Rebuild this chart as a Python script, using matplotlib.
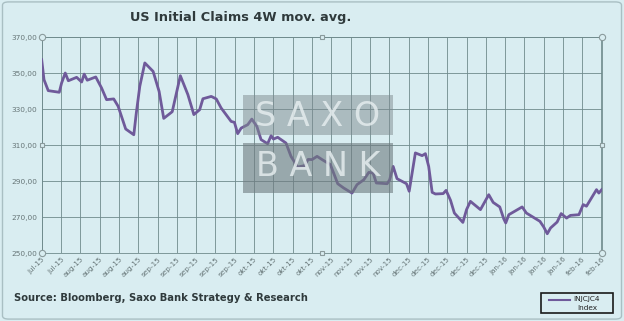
import matplotlib
matplotlib.use("Agg")
import matplotlib.pyplot as plt
from matplotlib.patches import Rectangle, FancyBboxPatch

# tick labels (one per grid line)
tick_labels = ["jul-15", "jul-15", "aug-15", "aug-15", "aug-15", "aug-15",
               "sep-15", "sep-15", "sep-15", "sep-15", "sep-15",
               "okt-15", "okt-15", "okt-15", "okt-15",
               "nov-15", "nov-15", "nov-15", "nov-15",
               "dec-15", "dec-15", "dec-15", "dec-15", "dec-15",
               "jan-16", "jan-16", "jan-16", "jan-16",
               "feb-16", "feb-16"]

# position along the axis (in tick steps) and claims 4W avg (thousands)
pos = [0.0, 0.12, 0.34, 0.91, 1.03, 1.22, 1.38, 1.81, 2.07, 2.2, 2.36, 2.8,
       3.1, 3.36, 3.73, 3.96, 4.35, 4.77, 4.9, 5.08, 5.34, 5.77, 6.08, 6.32,
       6.76, 7.18, 7.57, 7.88, 8.18, 8.35, 8.78, 9.04, 9.29, 9.81, 9.98,
       10.15, 10.33, 10.67, 10.88, 11.14, 11.36, 11.7, 11.88, 12.0, 12.22,
       12.65, 12.91, 13.25, 13.6, 13.8, 14.0, 14.26, 14.52, 14.95, 15.33,
       15.64, 16.07, 16.33, 16.68, 16.94, 17.16, 17.33, 17.89, 18.02, 18.2,
       18.4, 18.89, 19.03, 19.35, 19.7, 19.87, 20.04, 20.22, 20.39, 20.79,
       20.94, 21.17, 21.37, 21.81, 22.0, 22.2, 22.72, 23.15, 23.38, 23.72,
       23.93, 24.03, 24.19, 24.88, 25.1, 25.8, 26.0, 26.18, 26.35, 26.69,
       26.9, 27.18, 27.38, 27.82, 28.04, 28.21, 28.73, 28.85, 29.0]
claims = [357.4, 346.3, 340.2, 339.3, 344.4, 350.0, 345.7, 347.6, 345.0,
          349.4, 346.0, 347.8, 341.7, 335.2, 335.6, 331.5, 318.9, 315.7,
          327.8, 342.6, 355.6, 350.9, 339.8, 324.8, 328.5, 348.5, 338.0,
          326.9, 329.6, 335.7, 337.0, 335.6, 330.6, 323.1, 322.6, 316.3,
          319.4, 321.3, 324.4, 320.4, 313.0, 310.7, 315.2, 313.3, 314.3,
          311.1, 303.7, 297.8, 298.5, 302.0, 301.9, 303.7, 301.9, 299.1,
          288.5, 286.1, 283.3, 288.0, 290.7, 294.8, 294.4, 288.9, 288.5,
          290.7, 298.1, 291.3, 288.5, 284.3, 305.6, 304.1, 305.2, 298.1,
          283.7, 282.8, 283.0, 284.8, 279.3, 272.2, 267.0, 274.1, 278.7,
          274.1, 282.4, 278.1, 275.6, 268.9, 266.7, 271.3, 275.6, 272.2,
          267.6, 264.4, 260.7, 263.9, 267.2, 271.9, 269.4, 270.9, 271.3,
          276.9, 276.0, 285.2, 283.3, 285.2]

bg = "#d9edf1"
grid_c = "#6f8a8c"
line_c = "#6f5a9a"

fig = plt.figure(figsize=(6.24, 3.21), dpi=100, facecolor=bg)
fig.patches.append(FancyBboxPatch((0.004, 0.006), 0.992, 0.988,
                                  boxstyle="round,pad=0,rounding_size=0.01",
                                  transform=fig.transFigure, facecolor="none",
                                  edgecolor="#a9bfc3", lw=1.0))
ax = fig.add_axes([0.0668, 0.2118, 0.8975, 0.6729])
ax.set_facecolor(bg)

ax.plot(pos, claims, color=line_c, lw=2.0, zorder=3, solid_joinstyle="round")

ax.set_xlim(0, len(tick_labels) - 1)
ax.set_ylim(250, 370)
ax.set_xticks(range(len(tick_labels)))
ax.set_xticklabels(tick_labels, rotation=45, ha="right", rotation_mode="anchor",
                   fontsize=5.2, color="#667577")
ax.set_yticks(range(250, 371, 20))
ax.set_yticklabels([f"{v},00" for v in range(250, 371, 20)], fontsize=5.3,
                   color="#667577")
ax.tick_params(length=0, pad=3)
ax.tick_params(axis="x", pad=2)
ax.grid(True, color=grid_c, lw=0.6)
ax.set_axisbelow(True)
for s in ax.spines.values():
    s.set_color(grid_c)
    s.set_linewidth(0.6)
ax.spines["right"].set_linewidth(1.2)

# selection handles
for xa, ya, m in [(0, 0, "o"), (0, 1, "o"), (1, 1, "o"), (1, 0, "o"),
                  (0, 0.5, "s"), (0.5, 1, "s"), (1, 0.5, "s"), (0.5, 0, "s")]:
    ax.plot(xa, ya, marker=m, ms=4.5 if m == "o" else 3.5, mfc=bg, mec="#8a9a9c",
            mew=0.8, transform=ax.transAxes, clip_on=False, zorder=6)

# watermark
wm = fig.add_axes([0, 0, 1, 1], facecolor="none")
wm.set_xlim(0, 624)
wm.set_ylim(321, 0)
wm.axis("off")
wm.add_patch(Rectangle((243, 95), 150, 40, facecolor="#7e8a8f", alpha=0.5,
                       edgecolor="none", zorder=1))
wm.add_patch(Rectangle((243, 143), 150, 50, facecolor="#6e7a7f", alpha=0.6,
                       edgecolor="none", zorder=1))
wm.text(318, 116, "S A X O", fontsize=24, color="#e4ecee", ha="center",
        va="center", alpha=0.85)
wm.text(318, 166, "B A N K", fontsize=24, color="#e4ecee", ha="center",
        va="center", alpha=0.85)

fig.text(0.385, 0.945, "US Initial Claims 4W mov. avg.", ha="center", va="center",
         fontsize=9.3, fontweight="bold", color="#2f3a3c")
fig.text(0.022, 0.072, "Source: Bloomberg, Saxo Bank Strategy & Research",
         ha="left", va="center", fontsize=7.2, fontweight="bold", color="#2f3a3c")

# legend box
wm.add_patch(Rectangle((541, 293), 72, 20, facecolor=bg, edgecolor="#1a1a1a",
                       lw=1.2, zorder=2))
wm.plot([549, 570], [299.5, 299.5], color=line_c, lw=1.5, zorder=3)
wm.text(587, 299.5, "INJCJC4", fontsize=5.3, ha="center", va="center",
        color="#222222", zorder=3)
wm.text(587, 307.5, "Index", fontsize=5.3, ha="center", va="center",
        color="#222222", zorder=3)

fig.savefig("out.png", dpi=100, facecolor=bg)
